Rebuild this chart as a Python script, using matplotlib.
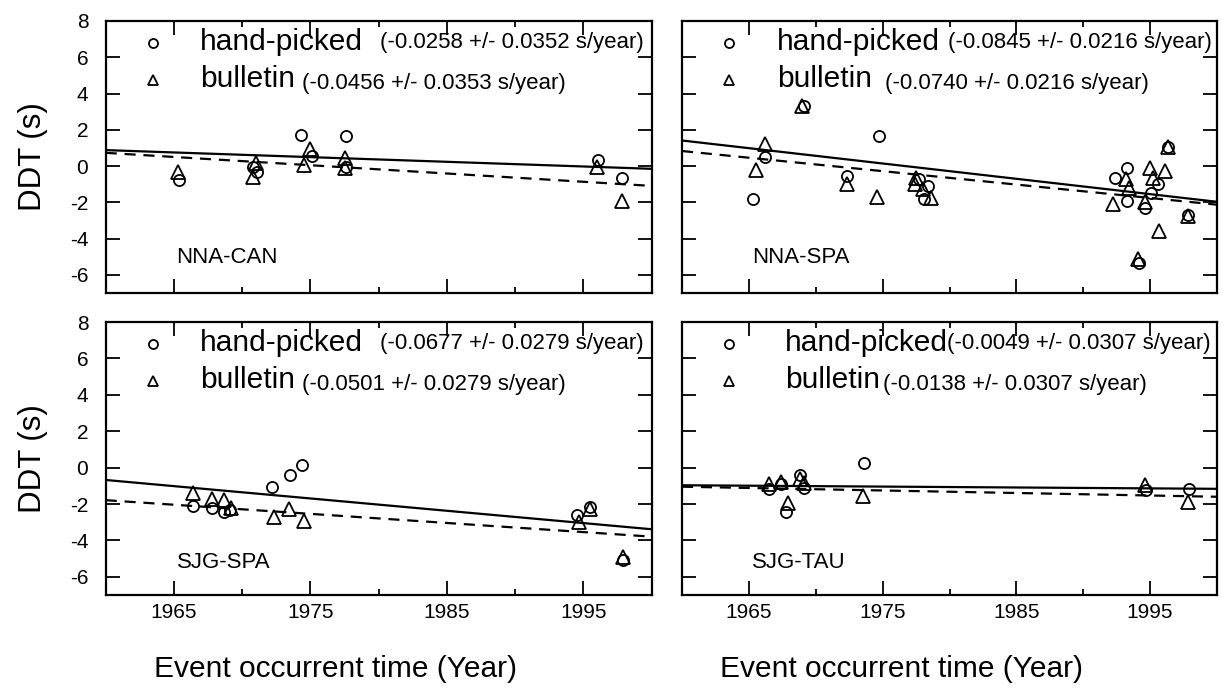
import numpy as np
import matplotlib
matplotlib.use("Agg")
import matplotlib.pyplot as plt
from matplotlib.ticker import FixedLocator

plt.rcParams['font.family'] = ['Liberation Sans', 'DejaVu Sans']
plt.rcParams['axes.unicode_minus'] = False

# ---------------- data ----------------
stations = ["NNA-CAN", "NNA-SPA", "SJG-SPA", "SJG-TAU"]

# NNA-CAN
nna_can_hp_year = [1965.4, 1970.8, 1971.1, 1974.3, 1975.1, 1977.6, 1977.6, 1996.1, 1997.8]
nna_can_hp_ddt = [-0.77, -0.04, -0.33, 1.74, 0.55, 1.65, -0.04, 0.33, -0.64]
nna_can_bl_year = [1965.3, 1970.8, 1971.0, 1974.5, 1975.0, 1977.5, 1977.5, 1996.0, 1997.8]
nna_can_bl_ddt = [-0.35, -0.59, 0.18, 0.04, 0.95, 0.46, -0.09, -0.04, -1.93]

# NNA-SPA
nna_spa_hp_year = [1965.3, 1966.2, 1969.1, 1972.3, 1974.7, 1977.7, 1978.4, 1978.1,
                   1992.4, 1993.3, 1993.3, 1994.6, 1995.1, 1994.2, 1996.3, 1995.6, 1997.8]
nna_spa_hp_ddt = [-1.80, 0.50, 3.34, -0.55, 1.65, -0.70, -1.10, -1.80,
                  -0.68, -0.13, -1.93, -2.33, -1.50, -5.36, 1.06, -0.97, -2.72]
nna_spa_bl_year = [1965.5, 1966.2, 1969.0, 1972.3, 1974.6, 1977.5, 1977.4, 1978.0, 1978.6,
                   1992.2, 1993.2, 1993.4, 1994.6, 1995.0, 1994.1, 1996.3, 1995.7, 1996.1,
                   1995.2, 1997.8]
nna_spa_bl_ddt = [-0.24, 1.19, 3.30, -0.97, -1.69, -0.64, -1.00, -1.28, -1.74,
                  -2.10, -0.73, -1.19, -2.00, -0.13, -5.10, 1.06, -3.58, -0.28,
                  -0.64, -2.75]

# SJG-SPA
sjg_spa_hp_year = [1966.4, 1967.8, 1968.7, 1969.1, 1972.2, 1973.5, 1974.4, 1994.5, 1995.5, 1997.9]
sjg_spa_hp_ddt = [-2.12, -2.24, -2.42, -2.32, -1.07, -0.43, 0.16, -2.61, -2.18, -5.05]
sjg_spa_bl_year = [1966.4, 1967.8, 1968.7, 1969.2, 1972.3, 1973.4, 1974.5, 1994.7, 1995.5, 1997.9]
sjg_spa_bl_ddt = [-1.40, -1.70, -1.79, -2.24, -2.73, -2.28, -2.96, -3.00, -2.28, -4.90]

# SJG-TAU
sjg_tau_hp_year = [1966.5, 1967.4, 1967.8, 1968.8, 1969.1, 1973.6, 1994.7, 1997.9]
sjg_tau_hp_ddt = [-1.19, -0.92, -2.44, -0.40, -1.10, 0.24, -1.23, -1.19]
sjg_tau_bl_year = [1966.5, 1967.4, 1967.9, 1968.8, 1969.1, 1973.5, 1994.6, 1997.8]
sjg_tau_bl_ddt = [-0.92, -0.77, -1.93, -0.64, -0.83, -1.56, -0.97, -1.89]

# trend lines: slope (s/year), uncertainty, value at 1960
hp_slope = [-0.0258, -0.0845, -0.0677, -0.0049]
hp_err = [0.0352, 0.0216, 0.0279, 0.0307]
hp_at1960 = [0.88, 1.41, -0.68, -0.97]
bl_slope = [-0.0456, -0.0740, -0.0501, -0.0138]
bl_err = [0.0353, 0.0216, 0.0279, 0.0307]
bl_at1960 = [0.73, 0.83, -1.79, -1.05]

x_major = [1965, 1975, 1985, 1995]
x_minor = [1970, 1980, 1990]
y_ticks = [-6, -4, -2, 0, 2, 4, 6, 8]

hp_years = [nna_can_hp_year, nna_spa_hp_year, sjg_spa_hp_year, sjg_tau_hp_year]
hp_ddts = [nna_can_hp_ddt, nna_spa_hp_ddt, sjg_spa_hp_ddt, sjg_tau_hp_ddt]
bl_years = [nna_can_bl_year, nna_spa_bl_year, sjg_spa_bl_year, sjg_tau_bl_year]
bl_ddts = [nna_can_bl_ddt, nna_spa_bl_ddt, sjg_spa_bl_ddt, sjg_tau_bl_ddt]

# ---------------- layout ----------------
W, H = 1223, 692
fig = plt.figure(figsize=(W / 100, H / 100), dpi=100)

def px_axes(left, top, right, bottom):
    return fig.add_axes([left / W, 1 - bottom / H, (right - left) / W, (bottom - top) / H])

axes = [
    px_axes(105.7, 21, 651.7, 293),
    px_axes(682, 21, 1217, 293),
    px_axes(105.7, 322, 651.7, 595),
    px_axes(682, 322, 1217, 595),
]

# legend text layout (axes fraction x positions)
label_x = [0.173, 0.177, 0.173, 0.193]
hp_paren_x = [0.502, 0.497, 0.502, 0.495]
bl_paren_x = [0.36, 0.379, 0.36, 0.376]
legend_mx = [0.087, 0.088, 0.087, 0.088]
station_x = [0.129, 0.131, 0.13, 0.131]

marker_kw = dict(linestyle='none', mfc='none', mec='black', mew=1.3)

for i, ax in enumerate(axes):
    ax.plot(hp_years[i], hp_ddts[i], marker='o', ms=8, **marker_kw)
    ax.plot(bl_years[i], bl_ddts[i], marker='^', ms=9.5, **marker_kw)

    xl = np.array([1960.0, 2000.0])
    ax.plot(xl, hp_at1960[i] + hp_slope[i] * (xl - 1960), color='black', lw=1.6)
    ax.plot(xl, bl_at1960[i] + bl_slope[i] * (xl - 1960), color='black', lw=1.6,
            linestyle=(0, (5, 3.5)))

    ax.set_xlim(1960, 2000)
    ax.set_ylim(-7, 8)
    ax.set_xticks(x_major)
    ax.xaxis.set_minor_locator(FixedLocator(x_minor))
    ax.set_yticks(y_ticks)
    ax.tick_params(which='major', direction='in', length=10, width=1.3,
                   top=True, right=True, labelsize=15)
    ax.tick_params(which='minor', direction='in', length=4, width=1.3,
                   top=True, right=True)
    ax.tick_params(axis='x', which='major', pad=6)
    ax.tick_params(axis='y', which='major', pad=12.5)
    for sp in ax.spines.values():
        sp.set_linewidth(1.6)

    if i in (1, 3):
        ax.tick_params(axis='y', labelleft=False)
    else:
        ax.set_ylabel("DDT (s)", fontsize=22.5)
        ax.yaxis.set_label_coords(-0.106, 0.5)
    if i in (0, 1):
        ax.tick_params(axis='x', labelbottom=False)
    else:
        ax.set_xlabel("Event occurrent time (Year)", fontsize=21.5)
        ax.xaxis.set_label_coords(0.42 if i == 2 else 0.411, -0.22)

    # legend
    ax.plot([legend_mx[i]], [0.92], marker='o', ms=6.5, transform=ax.transAxes, **marker_kw)
    ax.plot([legend_mx[i]], [0.783], marker='^', ms=7.5, transform=ax.transAxes, **marker_kw)
    ax.text(label_x[i], 0.893, "hand-picked", transform=ax.transAxes,
            fontsize=21.5, va='baseline')
    ax.text(label_x[i], 0.757, "bulletin", transform=ax.transAxes,
            fontsize=21.5, va='baseline')
    ax.text(hp_paren_x[i], 0.9, f"({hp_slope[i]:.4f} +/- {hp_err[i]:.4f} s/year)",
            transform=ax.transAxes, fontsize=16, va='baseline')
    ax.text(bl_paren_x[i], 0.75, f"({bl_slope[i]:.4f} +/- {bl_err[i]:.4f} s/year)",
            transform=ax.transAxes, fontsize=16, va='baseline')

    ax.text(station_x[i], 0.13 if i < 2 else 0.12, stations[i],
            transform=ax.transAxes, fontsize=16, va='center')

fig.savefig("out.png", dpi=100)
